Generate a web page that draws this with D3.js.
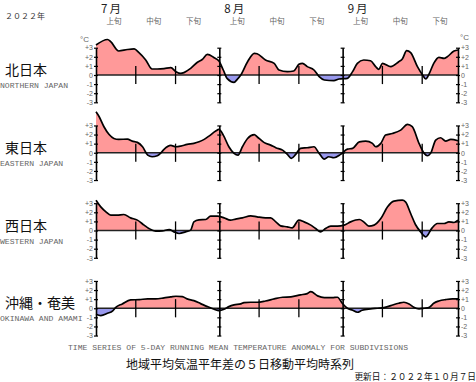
<!DOCTYPE html>
<html>
<head>
<meta charset="utf-8">
<script src="https://d3js.org/d3.v7.min.js"></script>
<style>
body { margin: 0; background: #fff; }
svg { display: block; }
</style>
</head>
<body>
<svg></svg>
<script>
// noms des régions, axes, étiquettes
var regions = ["北日本", "東日本", "西日本", "沖縄・奄美"]
var regionsEn = ["NORTHERN JAPAN", "EASTERN JAPAN", "WESTERN JAPAN", "OKINAWA AND AMAMI"]
var months = ["7月", "8月", "9月"]
var decades = ["上旬", "中旬", "下旬"]
var yTicks = [-3, -2, -1, 0, 1, 2, 3]

// [jour depuis le 1er juillet, écart en °C]
var north = [[0,3.3],[2.9,3.9],[3.7,3.66],[5.7,2.64],[7.9,2.8],[9.6,2.86],[10.8,2.45],[12.5,1.65],[14.1,0.66],[15.4,0.66],[17.1,0.7],[18.8,0.8],[20.1,0.37],[21.3,0.18],[22.1,0.26],[23.8,0.73],[25.5,1.4],[26.7,1.7],[28,2.27],[29.7,1.9],[30.9,1.54],[32,0.55],[33,-0.4],[34.7,-0.8],[35.5,-0.48],[36.4,0],[38.1,1.46],[39.8,2.38],[40.5,2.34],[42.6,1.65],[44.8,1.28],[46,0.55],[48.1,0.37],[49.7,0.44],[51,1.17],[51.9,1.28],[53.1,0.92],[54.8,0.55],[56.1,-0.18],[57.4,-0.55],[59.8,-0.62],[61.1,-0.44],[63.2,-0.37],[64.5,0.37],[65.7,1.28],[67.3,1.65],[69,1.57],[70.3,0.92],[71.1,0.62],[72,1.28],[74.1,0.92],[76.1,1.46],[77,1.76],[78.1,2.67],[79.1,2.45],[80.8,0.92],[82.1,0],[82.9,-0.44],[83.8,0.18],[84.9,1.28],[86.2,1.94],[87.5,1.83],[88.3,2],[90,2.64],[91,2.75]]

var east = [[0,4.5],[0.8,3.96],[2,2.86],[3.3,2],[4.5,1.57],[5.7,1.47],[7.9,1.5],[9.1,1.28],[10.4,1.14],[11.7,0.66],[13,-0.26],[14.1,-0.44],[15.4,-0.33],[16.2,-0.07],[17.1,0.37],[18.8,0.8],[20.1,0.66],[21.3,0.73],[22.9,0.92],[24.6,1.03],[25.9,1.2],[27.2,1.47],[28.4,1.83],[30.1,2.38],[30.9,2.56],[32,1.94],[33.4,0.66],[34.7,-0.07],[35.7,-0.26],[36.8,0.66],[38.1,1.57],[39.8,2],[40.5,1.76],[42.2,1.14],[43.9,0.84],[45.2,0.55],[46.9,0.29],[48.1,-0.18],[49.1,-0.62],[50.2,-0.18],[51.4,0.48],[53.1,0.55],[54.8,0.66],[56.1,-0.07],[57.4,-0.7],[58.5,-0.44],[59.8,-0.55],[61.5,-0.18],[63.2,0.4],[64.5,0.48],[66.2,1.2],[67.8,1.28],[69.5,1.03],[70.3,0.66],[71.6,1.03],[72.8,1.94],[74.5,2.12],[76.6,2.49],[78.3,3.11],[79.5,2.86],[81.2,1.03],[82.5,-0.07],[83.3,-0.33],[84.1,-0.07],[85.4,1.39],[86.6,1.65],[87.9,1.28],[89.2,1.47],[91,1.32]]

var west = [[0,3.33],[1.2,2.6],[2.5,2.05],[3.7,1.68],[5.3,1.68],[7,1.76],[8.7,1.39],[10.4,1.14],[12.1,0.59],[13.3,0.22],[15,-0.07],[16.7,-0.04],[18.4,0.11],[19.6,-0.15],[20.9,-0.33],[22.5,-0.15],[23.8,0.04],[24.6,0.95],[25.9,1.17],[27.6,1.21],[28.8,1.57],[30.5,1.57],[32.2,1.39],[33.8,1.14],[35.1,1.25],[36.8,1.39],[38.9,1.61],[40.5,1.5],[42.6,1.39],[43.9,1.39],[45.2,0.95],[46.4,0.51],[48.1,0.4],[49.3,0.29],[51,1.14],[52.3,0.95],[54,0.59],[55.2,0.22],[56.5,-0.15],[57.7,0.22],[59,0.48],[60.7,0.48],[62.4,0.59],[64,0.95],[66.2,1.21],[67.3,0.95],[68.6,0.48],[69.9,0.59],[71.6,1.32],[73.3,2.6],[74.9,3.22],[77,3.33],[77.8,3.15],[79.1,1.87],[80.3,0.66],[81.6,-0.15],[82.9,-0.7],[84.5,0.29],[85.8,0.77],[87.5,0.77],[88.7,0.95],[90,0.88],[91,1.14]]

var okinawa = [[0,-0.66],[1.2,-0.8],[2.9,-0.55],[4.2,-0.29],[4.9,0.07],[6.6,0.48],[8.7,0.92],[10.9,0.95],[13,1.03],[15,1.03],[17.1,1.14],[18.8,1.25],[20.1,1.32],[21.7,1.28],[22.9,1.03],[24.6,0.84],[26.3,0.51],[28,0.18],[29.7,-0.11],[30.9,-0.26],[32.2,-0.11],[33.4,0.18],[34.7,0.37],[36.4,0.48],[37.2,0.62],[38.9,0.66],[40.5,0.66],[42.6,0.8],[44.8,1.03],[46.9,1.21],[49,1.25],[51.4,1.47],[53.1,1.61],[54,1.83],[55.7,1.36],[57.4,1.17],[59.4,1.17],[60.7,1.21],[61.9,0.55],[63.2,0],[64.5,-0.22],[65.7,-0.44],[66.9,-0.22],[69,-0.07],[70.7,0],[72.4,0.07],[74.1,0.29],[76.1,0.55],[77.4,0.66],[78.7,0.48],[79.9,0.11],[81.2,-0.07],[82.5,0],[83.8,0.11],[84.9,0.55],[86.2,0.8],[87.9,0.95],[89.6,1.03],[91,1.03]]

var series = [north, east, west, okinawa]

var svg = d3.select("svg")
  .attr("width", 476)
  .attr("height", 382)

var start = new Date(Date.UTC(2022, 6, 1))
var end = new Date(Date.UTC(2022, 8, 30))
var day = function(d){ return new Date(start.getTime() + d * 864e5) }

var x = d3.scaleUtc().domain([start, end]).range([96, 458])

var monthStarts = d3.utcMonth.range(start, end)
var tenDays = []
var decadeMid = []
monthStarts.forEach(function(m){
  [1, 11, 21].forEach(function(dd, k){
    var dt = new Date(Date.UTC(2022, m.getUTCMonth(), dd))
    if (k > 0) tenDays.push(dt)
    decadeMid.push({label: decades[k], date: new Date(dt.getTime() + 4.5 * 864e5)})
  })
})

var grey = "#666"
var jp = "'Noto Sans CJK JP', sans-serif"
var mono = "'Liberation Mono', 'DejaVu Sans Mono', monospace"

// en-tête
svg.append("text").text("２０２２年")
  .attr("x", 5).attr("y", 19)
  .style("font-family", jp).style("font-size", "8px").attr("fill", "#333")

svg.selectAll(".month").data(monthStarts).enter().append("text")
  .text(function(d, i){ return months[i] })
  .attr("x", function(d){ return x(d) + 5 })
  .attr("y", 13)
  .style("font-family", jp).style("font-size", "11.5px").attr("fill", "#222")
  .style("letter-spacing", "2px")

svg.selectAll(".decade").data(decadeMid).enter().append("text")
  .text(function(d){ return d.label })
  .attr("x", function(d){ return x(d.date) })
  .attr("y", 23.5)
  .attr("text-anchor", "middle")
  .style("font-family", jp).style("font-size", "7.5px").attr("fill", grey)

// axe gradué avec petites barres des deux côtés
function bar(g, y, side, labels){
  var ax = (side == "right" ? d3.axisRight(y) : d3.axisLeft(y))
    .tickValues(yTicks).tickSize(2).tickSizeOuter(0)
    .tickFormat(function(v){ return labels ? (v > 0 ? "+" + v : String(v)) : "" })
  g.call(ax)
  g.select(".domain").attr("stroke", "#000").attr("stroke-width", 1.6)
  g.selectAll(".tick line").attr("x1", side == "right" ? -2 : 2).attr("stroke", "#000").attr("stroke-width", 1.2)
  g.selectAll(".tick text").attr("fill", grey).style("font-size", "7px")
    .style("font-family", "'Liberation Sans', Arial, sans-serif")
    .attr("x", side == "right" ? 3 : -3)
}

var pos = svg.append("defs")

series.forEach(function(data, i){
  var zero = 75 + i * 77.75
  var y = d3.scaleLinear().domain([-3, 3]).range([zero + 27.3, zero - 27.3])
  var g = svg.append("g")

  pos.append("clipPath").attr("id", "up" + i).append("rect")
    .attr("x", 96).attr("y", zero - 60).attr("width", 362).attr("height", 60)
  pos.append("clipPath").attr("id", "dn" + i).append("rect")
    .attr("x", 96).attr("y", zero).attr("width", 362).attr("height", 60)

  var area = d3.area().curve(d3.curveMonotoneX)
    .x(function(d){ return x(day(d[0])) })
    .y0(y(0))
    .y1(function(d){ return y(d[1]) })
  var line = d3.line().curve(d3.curveMonotoneX)
    .x(function(d){ return x(day(d[0])) })
    .y(function(d){ return y(d[1]) })

  g.append("path").datum(data).attr("d", area)
    .attr("fill", "#ff9999").attr("clip-path", "url(#up" + i + ")")
  g.append("path").datum(data).attr("d", area)
    .attr("fill", "#9999ee").attr("clip-path", "url(#dn" + i + ")")

  // ligne zéro
  g.append("line")
    .attr("x1", x(start)).attr("x2", x(end))
    .attr("y1", y(0)).attr("y2", y(0))
    .attr("stroke", "#222").attr("stroke-width", 1.6)

  // séparations décades
  g.selectAll(".tenday").data(tenDays).enter().append("line")
    .attr("x1", function(d){ return x(d) }).attr("x2", function(d){ return x(d) })
    .attr("y1", y(1)).attr("y2", y(-1))
    .attr("stroke", "#000").attr("stroke-width", 1.3)

  g.append("path").datum(data).attr("d", line)
    .attr("fill", "none").attr("stroke", "#000").attr("stroke-width", 1.7)

  // axes et séparations de mois
  bar(g.append("g").attr("transform", "translate(" + x(start) + ",0)"), y, "left", true)
  bar(g.append("g").attr("transform", "translate(" + x(end) + ",0)"), y, "right", true)
  monthStarts.slice(1).forEach(function(m){
    bar(g.append("g").attr("transform", "translate(" + x(m) + ",0)"), y, "left", false)
  })

  if (i == 0){
    g.append("text").text("°C").attr("x", 80).attr("y", zero - 33)
      .attr("fill", grey).style("font-size", "8px").style("font-family", "'Liberation Sans', Arial, sans-serif")
    g.append("text").text("°C").attr("x", 460).attr("y", zero - 35)
      .attr("fill", grey).style("font-size", "8px").style("font-family", "'Liberation Sans', Arial, sans-serif")
  }

  g.append("text").text(regions[i])
    .attr("x", 5).attr("y", zero)
    .style("font-family", jp).style("font-size", "14px").attr("fill", "#111")
  g.append("text").text(regionsEn[i])
    .attr("x", 0).attr("y", zero + 13)
    .style("font-family", mono).style("font-size", "8.1px").attr("fill", grey)
})

// titres du bas
svg.append("text").text("TIME SERIES OF 5-DAY RUNNING MEAN TEMPERATURE ANOMALY FOR SUBDIVISIONS")
  .attr("x", 68).attr("y", 350)
  .style("font-family", mono).style("font-size", "8.1px").attr("fill", grey)

svg.append("text").text("地域平均気温平年差の５日移動平均時系列")
  .attr("x", 126).attr("y", 369)
  .style("font-family", jp).style("font-size", "12px").attr("fill", "#111")

svg.append("text").text("更新日：２０２２年１０月７日")
  .attr("x", 476).attr("y", 380)
  .attr("text-anchor", "end")
  .style("font-family", jp).style("font-size", "8.7px").attr("fill", "#111")
</script>
</body>
</html>
